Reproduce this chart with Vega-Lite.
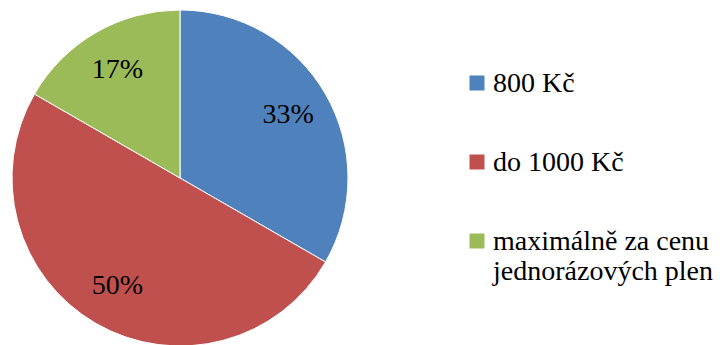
{
  "$schema": "https://vega.github.io/schema/vega-lite/v6.json",
  "width": 360,
  "height": 356,
  "padding": 0,
  "background": "white",
  "data": {
    "values": [
      {"category": "800 Kč", "value": 33.33, "pct": "33%", "order": 1},
      {"category": "do 1000 Kč", "value": 50, "pct": "50%", "order": 2},
      {"category": "maximálně za cenu jednorázových plen", "value": 16.67, "pct": "17%", "order": 3}
    ]
  },
  "encoding": {
    "theta": {"field": "value", "type": "quantitative", "stack": true},
    "order": {"field": "order", "type": "quantitative"},
    "color": {
      "field": "category",
      "type": "nominal",
      "scale": {
        "domain": ["800 Kč", "do 1000 Kč", "maximálně za cenu jednorázových plen"],
        "range": ["#4F81BD", "#C0504D", "#9BBB59"]
      },
      "legend": {
        "orient": "none",
        "legendX": 463,
        "legendY": 78,
        "title": null,
        "padding": 0,
        "symbolType": "M-1,-2.2H1V-0.2H-1Z",
        "symbolSize": 225,
        "symbolStrokeWidth": 0,
        "labelFont": "Liberation Serif",
        "labelFontSize": 28,
        "labelColor": "black",
        "labelBaseline": "alphabetic",
        "labelOffset": 2,
        "labelLimit": 400,
        "rowPadding": 51,
        "labelExpr": "datum.label == 'maximálně za cenu jednorázových plen' ? ['maximálně za cenu', 'jednorázových plen'] : datum.label"
      }
    }
  },
  "layer": [
    {"mark": {"type": "arc", "outerRadius": 168, "stroke": "white", "strokeWidth": 1}},
    {
      "mark": {"type": "text", "radius": 125, "font": "Liberation Serif", "fontSize": 28},
      "encoding": {"text": {"field": "pct"}, "color": {"value": "black"}}
    }
  ],
  "config": {"view": {"stroke": null}, "font": "Liberation Serif"}
}
